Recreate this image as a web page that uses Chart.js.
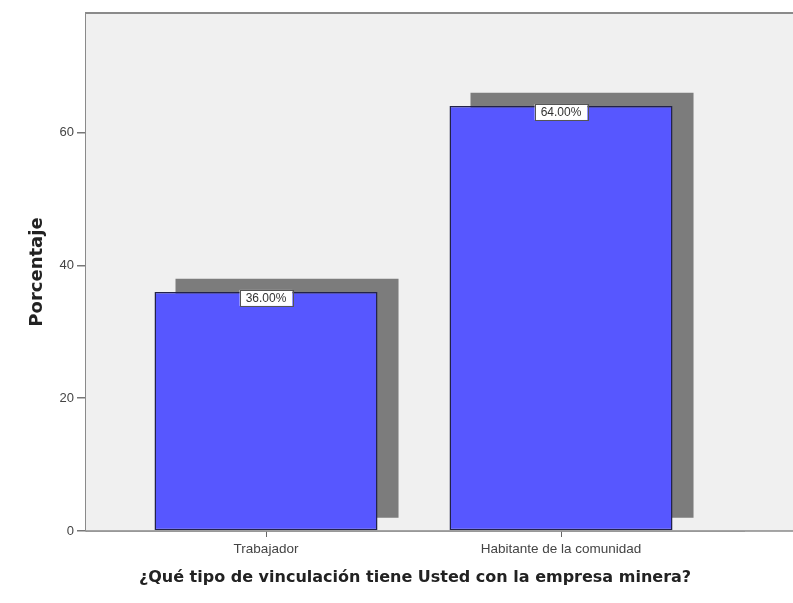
<!DOCTYPE html>
<html>
<head>
<meta charset="utf-8">
<script src="https://cdn.jsdelivr.net/npm/chart.js@4"></script>
<style>
  html, body { margin: 0; padding: 0; background: #ffffff; }
  #wrap { width: 793px; height: 603px; }
</style>
</head>
<body>
<div id="wrap"><canvas id="c" width="793" height="603"></canvas></div>
<script>
// ---- data ----
const categories = ['Trabajador', 'Habitante de la comunidad'];
const percentages = [36, 64];
const valueLabels = ['36.00%', '64.00%'];
const yTickValues = [0, 20, 40, 60];
const xAxisTitle = '¿Qué tipo de vinculación tiene Usted con la empresa minera?';
const yAxisTitle = 'Porcentaje';

// ---- layout constants (styles, not data) ----
const X_MIN = 0.3898, X_MAX = 2.6203;
const Y_MIN = 0, Y_MAX = 78;
const SHADOW_DX = 0.0712;   // horizontal shadow offset in x units
const SHADOW_DY = 2;        // vertical shadow offset in y units

const blueData = categories.map((c, i) => ({ x: i + 1, y: percentages[i] }));
const shadowData = categories.map((c, i) => ({ x: i + 1, y: percentages[i] }));
const setCatTicks = s => { s.ticks = categories.map((c, i) => ({ value: i + 1 })); };

const plotBg = {
  id: 'plotBg',
  beforeDatasetsDraw(chart) {
    const { ctx, chartArea } = chart;
    ctx.save();
    ctx.fillStyle = '#f0f0f0';
    ctx.fillRect(chartArea.left, chartArea.top, chart.width - chartArea.left, chartArea.bottom - chartArea.top);
    ctx.restore();
  },
  afterDatasetsDraw(chart) {
    const { ctx, chartArea } = chart;
    ctx.save();
    ctx.strokeStyle = '#8a8a8a';
    ctx.lineWidth = 2;
    ctx.beginPath();
    ctx.moveTo(chartArea.left, chartArea.top);
    ctx.lineTo(chart.width, chartArea.top);
    ctx.stroke();
    ctx.lineWidth = 1.5;
    ctx.beginPath();
    ctx.moveTo(chartArea.left, chartArea.bottom);
    ctx.lineTo(chart.width, chartArea.bottom);
    ctx.stroke();
    // value labels
    const meta = chart.getDatasetMeta(1);
    ctx.font = '12px "Liberation Sans", Arial, sans-serif';
    ctx.textAlign = 'center';
    ctx.textBaseline = 'middle';
    meta.data.forEach((el, i) => {
      const txt = valueLabels[i];
      const w = ctx.measureText(txt).width + 12;
      const h = 16;
      const x = el.x - w / 2;
      const y = el.y - 2;
      ctx.fillStyle = '#ffffff';
      ctx.fillRect(x, y, w, h);
      ctx.strokeStyle = '#555555';
      ctx.lineWidth = 1;
      ctx.strokeRect(Math.round(x) + 0.5, Math.round(y) + 0.5, Math.round(w), h);
      ctx.fillStyle = '#333333';
      ctx.fillText(txt, el.x, y + h / 2 + 0.5);
    });
    ctx.restore();
  }
};

new Chart(document.getElementById('c'), {
  type: 'bar',
  data: {
    datasets: [
      {
        label: 'shadow',
        data: shadowData,
        xAxisID: 'x2',
        yAxisID: 'y2',
        backgroundColor: '#7c7c7c',
        borderWidth: 0,
        order: 1,
        grouped: false,
        categoryPercentage: 1,
        barPercentage: 0.756
      },
      {
        label: 'Porcentaje',
        data: blueData,
        xAxisID: 'x',
        yAxisID: 'y',
        backgroundColor: '#5757ff',
        borderColor: '#22224a',
        borderWidth: 1.5,
        borderSkipped: false,
        order: 0,
        grouped: false,
        categoryPercentage: 1,
        barPercentage: 0.756
      }
    ]
  },
  options: {
    responsive: false,
    animation: false,
    events: [],
    layout: { padding: { top: 13, right: 49, left: 0, bottom: 0 } },
    plugins: { legend: { display: false }, tooltip: { enabled: false } },
    scales: {
      x: {
        type: 'linear',
        offset: false,
        min: X_MIN, max: X_MAX,
        afterFit: s => { s.height = 72; },
        afterBuildTicks: setCatTicks,
        ticks: {
          callback: v => categories[Math.round(v) - 1],
          font: { family: '"Liberation Sans", Arial, sans-serif', size: 13.5 },
          color: '#444444',
          padding: 4,
          maxRotation: 0, autoSkip: false
        },
        grid: { display: true, offset: false, drawOnChartArea: false, drawTicks: true, tickLength: 6, color: '#666666', lineWidth: 1 },
        border: { display: true, color: '#8a8a8a', width: 1.5 },
        title: {
          display: true, text: xAxisTitle,
          font: { family: '"DejaVu Sans", Verdana, sans-serif', size: 16, weight: 'bold' },
          color: '#222222',
          padding: { top: 0, bottom: 16 }
        }
      },
      y: {
        type: 'linear',
        min: Y_MIN, max: Y_MAX,
        afterFit: s => { s.width = 86; },
        afterBuildTicks: s => { s.ticks = yTickValues.map(v => ({ value: v })); },
        ticks: {
          font: { family: '"Liberation Sans", Arial, sans-serif', size: 13 },
          color: '#444444',
          padding: 3
        },
        grid: { display: true, drawOnChartArea: false, drawTicks: true, tickLength: 9, color: '#777777', lineWidth: 1.5 },
        border: { display: true, color: '#8a8a8a', width: 1.5 },
        title: {
          display: true, text: yAxisTitle,
          font: { family: '"DejaVu Sans", Verdana, sans-serif', size: 18, weight: 'bold' },
          color: '#222222',
          padding: { top: 27, bottom: 0 }
        }
      },
      x2: {
        type: 'linear', display: false, offset: false,
        grid: { offset: false },
        min: X_MIN - SHADOW_DX, max: X_MAX - SHADOW_DX,
        afterBuildTicks: setCatTicks
      },
      y2: {
        type: 'linear', display: false,
        min: Y_MIN - SHADOW_DY, max: Y_MAX - SHADOW_DY
      }
    }
  },
  plugins: [plotBg]
});
</script>
</body>
</html>
